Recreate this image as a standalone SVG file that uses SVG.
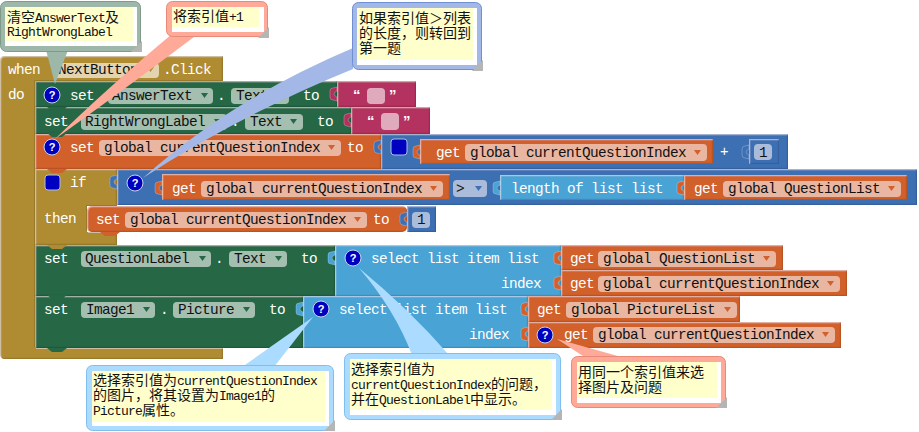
<svg xmlns="http://www.w3.org/2000/svg" width="919" height="432" viewBox="0 0 919 432">
<style>
text{font-family:"Liberation Mono","DejaVu Sans Mono",monospace;font-size:14.4px;letter-spacing:-.64px;white-space:pre}
.w{fill:#fff}.k{fill:#111}
.gold{fill:#af8b33}.green{fill:#266745}.pink{fill:#b3305e}.orange{fill:#d1602c}.blue{fill:#3e70b3}.sky{fill:#49a3d5}
.f-gold{fill:#e3d3ae}.f-green{fill:#a4bfb0}.f-orange{fill:#e9b7a1}.f-pink{fill:#e0aabd}.f-blue{fill:#aabcd9}
.t-green{fill:#266745}.t-orange{fill:#d1602c}.t-blue{fill:#3e70b3}.t-gold{fill:#af8b33}
.bv{filter:url(#bevel)}
.tb{stroke:#fff;stroke-opacity:.3;stroke-width:.8}
text.c{font-family:"Noto Sans CJK SC","Liberation Sans",sans-serif;font-size:14px;letter-spacing:0;fill:#111}
.c tspan.l{font-family:"Liberation Mono",monospace;font-size:13px;letter-spacing:-.8px}
.y{fill:#ffffcc}.wb{fill:#fff}.cn{fill:#b5b5b5}
.c-green{fill:#9db8a8}.c-salmon{fill:#ffaa99}.c-peri{fill:#a3b8e6}.c-sky{fill:#abdcff}
.s-green{stroke:#7f9a8b}.s-salmon{stroke:#e88a78}.s-peri{stroke:#6f8fd0}.s-sky{stroke:#7fbfee}
text.q{font-family:"Liberation Sans",sans-serif;font-size:11px;letter-spacing:0;font-weight:bold;fill:#fff;text-anchor:middle}
text.qm{font-family:"Liberation Sans",sans-serif;font-size:15px;letter-spacing:0;font-weight:bold;fill:#fff}
.ic{fill:#0000c0;stroke:#c8d4ea;stroke-width:1}
.mu{fill:#0000c0;stroke:#a9c0e4;stroke-width:1}
</style>
<defs>
<filter id="bevel" x="-2%" y="-5%" width="104%" height="110%">
<feOffset in="SourceAlpha" dx="1.2" dy="1.2" result="o1"/>
<feComposite in="SourceAlpha" in2="o1" operator="out" result="e1"/>
<feFlood flood-color="#fff" flood-opacity=".35"/>
<feComposite in2="e1" operator="in" result="hl"/>
<feOffset in="SourceAlpha" dx="-1.2" dy="-1.2" result="o2"/>
<feComposite in="SourceAlpha" in2="o2" operator="out" result="e2"/>
<feFlood flood-color="#000" flood-opacity=".25"/>
<feComposite in2="e2" operator="in" result="sh"/>
<feMerge><feMergeNode in="SourceGraphic"/><feMergeNode in="hl"/><feMergeNode in="sh"/></feMerge>
</filter>
<path id="tab" d="M0 0L-4 1Q-7 1-7 4V10Q-7 13-4 13L0 14V10Q-3 9-3 7Q-3 5 0 4Z"/>
<path id="nt" d="M0 0L5 4H15L20 0Z"/>
<path id="tri" d="M0 0H7L3.5 5Z"/>
</defs>

<g id="event-when">
<path class="gold bv" d="M5 56H223V81H35V348H223V359H5Q0 359 0 354V61Q0 56 5 56Z"/>
<text class="w" x="8" y="74">when</text><text class="w" x="8" y="99">do</text>
<rect class="f-gold" x="54" y="63" width="105" height="15" rx="4"/><use href="#tri" class="t-gold" x="147" y="67"/>
<text class="k" x="58" y="74">NextButton</text><text class="w" x="163" y="74">.Click</text>
</g>

<g id="row-image-picture">
<rect class="green bv" x="35" y="296" width="268" height="52"/><use href="#nt" class="green" x="47" y="348"/>
<text class="w" x="44" y="314">set</text>
<rect class="f-green" x="81" y="302" width="74" height="16" rx="4"/><text class="k" x="86" y="314">Image1</text><use href="#tri" class="t-green" x="143" y="307"/>
<text class="w" x="160" y="314">.</text>
<rect class="f-green" x="173" y="302" width="82" height="16" rx="4"/><text class="k" x="178" y="314">Picture</text><use href="#tri" class="t-green" x="243" y="307"/>
<text class="w" x="269" y="314">to</text>
<rect class="sky bv" x="303" y="296" width="225" height="52"/><use href="#tab" class="sky tb" x="303" y="302"/>
<circle class="ic" cx="321" cy="309" r="8"/><text class="q" x="321" y="313">?</text>
<text class="w" x="339" y="314">select list item list</text><text class="w" x="469" y="339">index</text>
<rect class="orange bv" x="528" y="296" width="212" height="26"/><use href="#tab" class="orange tb" x="528" y="302"/>
<text class="w" x="537" y="314">get</text><rect class="f-orange" x="566" y="302" width="171" height="16" rx="4"/><text class="k" x="571" y="314">global PictureList</text><use href="#tri" class="t-orange" x="724" y="307"/>
<rect class="orange bv" x="528" y="322" width="313" height="26"/><use href="#tab" class="orange tb" x="528" y="327"/>
<circle class="ic" cx="545" cy="335" r="8"/><text class="q" x="545" y="339">?</text>
<text class="w" x="564" y="339">get</text><rect class="f-orange" x="593" y="327" width="242" height="16" rx="4"/><text class="k" x="598" y="339">global currentQuestionIndex</text><use href="#tri" class="t-orange" x="822" y="332"/>
</g>

<g id="row-question-label">
<rect class="green bv" x="35" y="245" width="300" height="51"/><use href="#nt" class="green" x="47" y="295"/>
<text class="w" x="44" y="263">set</text>
<rect class="f-green" x="81" y="251" width="130" height="16" rx="4"/><text class="k" x="85" y="263">QuestionLabel</text><use href="#tri" class="t-green" x="199" y="256"/>
<text class="w" x="215" y="263">.</text>
<rect class="f-green" x="229" y="251" width="58" height="16" rx="4"/><text class="k" x="234" y="263">Text</text><use href="#tri" class="t-green" x="275" y="256"/>
<text class="w" x="301" y="263">to</text>
<rect class="sky bv" x="335" y="245" width="226" height="51"/><use href="#tab" class="sky tb" x="335" y="251"/>
<circle class="ic" cx="353" cy="258" r="8"/><text class="q" x="353" y="262">?</text>
<text class="w" x="371" y="263">select list item list</text><text class="w" x="501" y="288">index</text>
<rect class="orange bv" x="561" y="245" width="222" height="25"/><use href="#tab" class="orange tb" x="561" y="251"/>
<text class="w" x="570" y="263">get</text><rect class="f-orange" x="598" y="251" width="178" height="16" rx="4"/><text class="k" x="603" y="263">global QuestionList</text><use href="#tri" class="t-orange" x="763" y="256"/>
<rect class="orange bv" x="561" y="270" width="286" height="26"/><use href="#tab" class="orange tb" x="561" y="276"/>
<text class="w" x="570" y="288">get</text><rect class="f-orange" x="598" y="276" width="242" height="16" rx="4"/><text class="k" x="603" y="288">global currentQuestionIndex</text><use href="#tri" class="t-orange" x="827" y="281"/>
</g>

<g id="row-if">
<path class="gold bv" d="M35 169H117V206H87V232H117V245H35Z"/><use href="#nt" class="gold" x="47" y="245"/>
<rect class="mu" x="45" y="175" width="15" height="15" rx="3"/>
<text class="w" x="70" y="187">if</text><text class="w" x="44" y="223">then</text>
<rect class="blue bv" x="117" y="169" width="800" height="36"/><use href="#tab" class="blue tb" x="117" y="175"/>
<circle class="ic" cx="135" cy="183" r="8"/><text class="q" x="135" y="187">?</text>
<rect class="orange bv" x="162" y="174" width="288" height="26"/><use href="#tab" class="orange tb" x="162" y="181"/>
<text class="w" x="172" y="193">get</text><rect class="f-orange" x="201" y="181" width="242" height="16" rx="4"/><text class="k" x="206" y="193">global currentQuestionIndex</text><use href="#tri" class="t-orange" x="430" y="186"/>
<rect class="f-blue" x="453" y="180" width="34" height="17" rx="4"/><text class="k" x="456" y="193">&gt;</text><use href="#tri" class="t-blue" x="475" y="186"/>
<rect class="sky bv" x="500" y="175" width="184" height="25"/><use href="#tab" class="sky tb" x="500" y="181"/>
<text class="w" x="511" y="193">length of list list</text>
<rect class="orange bv" x="684" y="175" width="223" height="25"/><use href="#tab" class="orange tb" x="684" y="181"/>
<text class="w" x="694" y="193">get</text><rect class="f-orange" x="723" y="181" width="178" height="16" rx="4"/><text class="k" x="728" y="193">global QuestionList</text><use href="#tri" class="t-orange" x="888" y="186"/>
</g>

<g id="row-then-set">
<rect class="orange bv" x="87" y="206" width="320" height="26" rx="5"/><use href="#nt" class="orange" x="100" y="232"/>
<text class="w" x="96" y="224">set</text><rect class="f-orange" x="125" y="212" width="242" height="16" rx="4"/><text class="k" x="130" y="224">global currentQuestionIndex</text><use href="#tri" class="t-orange" x="354" y="217"/>
<text class="w" x="373" y="224">to</text>
<rect class="blue bv" x="407" y="206" width="29" height="26"/><use href="#tab" class="blue tb" x="407" y="212"/>
<rect class="f-blue" x="412" y="212" width="18" height="16" rx="4"/><text class="k" x="417" y="224">1</text>
</g>

<g id="row-set-index">
<rect class="orange bv" x="35" y="134" width="346" height="35"/><use href="#nt" class="orange" x="47" y="169"/>
<circle class="ic" cx="52" cy="147" r="8"/><text class="q" x="52" y="151">?</text>
<text class="w" x="70" y="152">set</text><rect class="f-orange" x="99" y="140" width="242" height="16" rx="4"/><text class="k" x="104" y="152">global currentQuestionIndex</text><use href="#tri" class="t-orange" x="328" y="145"/>
<text class="w" x="347" y="152">to</text>
<rect class="blue bv" x="381" y="134" width="407" height="35"/><use href="#tab" class="blue tb" x="381" y="140"/>
<rect class="mu" x="391" y="139" width="16" height="16" rx="3"/>
<rect class="orange bv" x="420" y="139" width="293" height="25"/><use href="#tab" class="orange tb" x="420" y="145"/>
<text class="w" x="436" y="157">get</text><rect class="f-orange" x="465" y="144" width="242" height="17" rx="4"/><text class="k" x="470" y="157">global currentQuestionIndex</text><use href="#tri" class="t-orange" x="694" y="150"/>
<text class="w" x="720" y="156">+</text>
<rect class="blue bv" x="749" y="139" width="30" height="25"/><use href="#tab" class="blue tb" x="749" y="145"/>
<rect class="f-blue" x="754" y="144" width="18" height="16" rx="4"/><text class="k" x="759" y="157">1</text>
</g>

<g id="row-set-rightwronglabel">
<rect class="green bv" x="35" y="107" width="316" height="27"/><use href="#nt" class="green" x="47" y="133"/>
<text class="w" x="44" y="126">set</text>
<rect class="f-green" x="81" y="114" width="146" height="16" rx="4"/><text class="k" x="85" y="126">RightWrongLabel</text><use href="#tri" class="t-green" x="214" y="119"/>
<text class="w" x="231" y="126">.</text>
<rect class="f-green" x="245" y="114" width="58" height="16" rx="4"/><text class="k" x="250" y="126">Text</text><use href="#tri" class="t-green" x="290" y="119"/>
<text class="w" x="317" y="126">to</text>
<rect class="pink bv" x="351" y="107" width="79" height="27"/><use href="#tab" class="pink tb" x="351" y="113"/>
<text class="qm" x="367" y="126">“</text><rect class="f-pink" x="381" y="113" width="18" height="17" rx="4"/><text class="qm" x="403" y="126">”</text>
</g>

<g id="row-set-answertext">
<rect class="green bv" x="35" y="81" width="302" height="26"/><use href="#nt" class="green" x="47" y="107"/>
<circle class="ic" cx="52" cy="95" r="8"/><text class="q" x="52" y="99">?</text>
<text class="w" x="70" y="100">set</text>
<rect class="f-green" x="108" y="88" width="105" height="16" rx="4"/><text class="k" x="112" y="100">AnswerText</text><use href="#tri" class="t-green" x="201" y="93"/>
<text class="w" x="217" y="100">.</text>
<rect class="f-green" x="231" y="88" width="58" height="16" rx="4"/><text class="k" x="236" y="100">Text</text><use href="#tri" class="t-green" x="276" y="93"/>
<text class="w" x="303" y="100">to</text>
<rect class="pink bv" x="337" y="81" width="79" height="26"/><use href="#tab" class="pink tb" x="337" y="87"/>
<text class="qm" x="353" y="100">“</text><rect class="f-pink" x="367" y="88" width="18" height="16" rx="4"/><text class="qm" x="389" y="100">”</text>
</g>

<g id="connectors">
<path class="c-green" d="M46 50L68 50L55 84Z"/>
<path class="c-salmon" d="M172 34L194 37Q110 100 55 139Q105 90 172 34Z"/>
<path class="c-peri" d="M353 48L353 69Q240 115 143 178Q230 100 353 48Z"/>
<path class="c-sky" d="M242 367L274 367L313 317Z"/>
<path class="c-sky" d="M359 268Q395 310 412 355L449 355Q410 310 359 268Z"/>
<path class="c-salmon" d="M557 339L586 358L625 358Z"/>
</g>

<g id="note-clear">
<rect class="c-green s-green" x="0.5" y="1.5" width="140" height="50" rx="6"/><rect class="wb" x="5" y="7" width="132" height="39"/><rect class="y" x="5" y="7" width="128" height="34"/>
<polygon class="cn" points="142,41 142,52 131,52"/>
<text class="c" x="7" y="22">清空<tspan class="l">AnswerText</tspan>及</text>
<text class="c" x="7" y="36"><tspan class="l">RightWrongLabel</tspan></text>
</g>
<g id="note-plus-one">
<rect class="c-salmon s-salmon" x="166.5" y="1.5" width="101" height="35" rx="6"/><rect class="wb" x="172" y="7" width="92" height="25"/><rect class="y" x="172" y="7" width="87" height="20"/>
<polygon class="cn" points="269,27 269,38 258,38"/>
<text class="c" x="173" y="21">将索引值<tspan class="l">+1</tspan></text>
</g>
<g id="note-wrap">
<rect class="c-peri s-peri" x="352.5" y="2.5" width="129" height="67" rx="6"/><rect class="wb" x="357" y="8" width="120" height="57"/><rect class="y" x="357" y="8" width="116" height="52"/>
<polygon class="cn" points="483,60 483,71 472,71"/>
<text class="c" x="359" y="23">如果索引值＞列表</text>
<text class="c" x="359" y="38">的长度，则转回到</text>
<text class="c" x="359" y="53">第一题</text>
</g>
<g id="note-picture">
<rect class="c-sky s-sky" x="86.5" y="365.5" width="247" height="65" rx="6"/><rect class="wb" x="92" y="371" width="237" height="55"/><rect class="y" x="92" y="371" width="233" height="51"/>
<polygon class="cn" points="335,420 335,431 324,431"/>
<text class="c" x="93" y="385">选择索引值为<tspan class="l">currentQuestionIndex</tspan></text>
<text class="c" x="93" y="400">的图片，将其设置为<tspan class="l">Image1</tspan>的</text>
<text class="c" x="93" y="415"><tspan class="l">Picture</tspan>属性。</text>
</g>
<g id="note-question">
<rect class="c-sky s-sky" x="344.5" y="353.5" width="216" height="66" rx="6"/><rect class="wb" x="350" y="359" width="206" height="56"/><rect class="y" x="350" y="359" width="202" height="51"/>
<polygon class="cn" points="562,409 562,420 551,420"/>
<text class="c" x="351" y="374">选择索引值为</text>
<text class="c" x="351" y="389"><tspan class="l">currentQuestionIndex</tspan>的问题，</text>
<text class="c" x="351" y="404">并在<tspan class="l">QuestionLabel</tspan>中显示。</text>
</g>
<g id="note-same-index">
<rect class="c-salmon s-salmon" x="571.5" y="356.5" width="154" height="51" rx="6"/><rect class="wb" x="577" y="362" width="144" height="41"/><rect class="y" x="577" y="362" width="140" height="36"/>
<polygon class="cn" points="727,397 727,408 716,408"/>
<text class="c" x="578" y="377">用同一个索引值来选</text>
<text class="c" x="578" y="392">择图片及问题</text>
</g>
</svg>
